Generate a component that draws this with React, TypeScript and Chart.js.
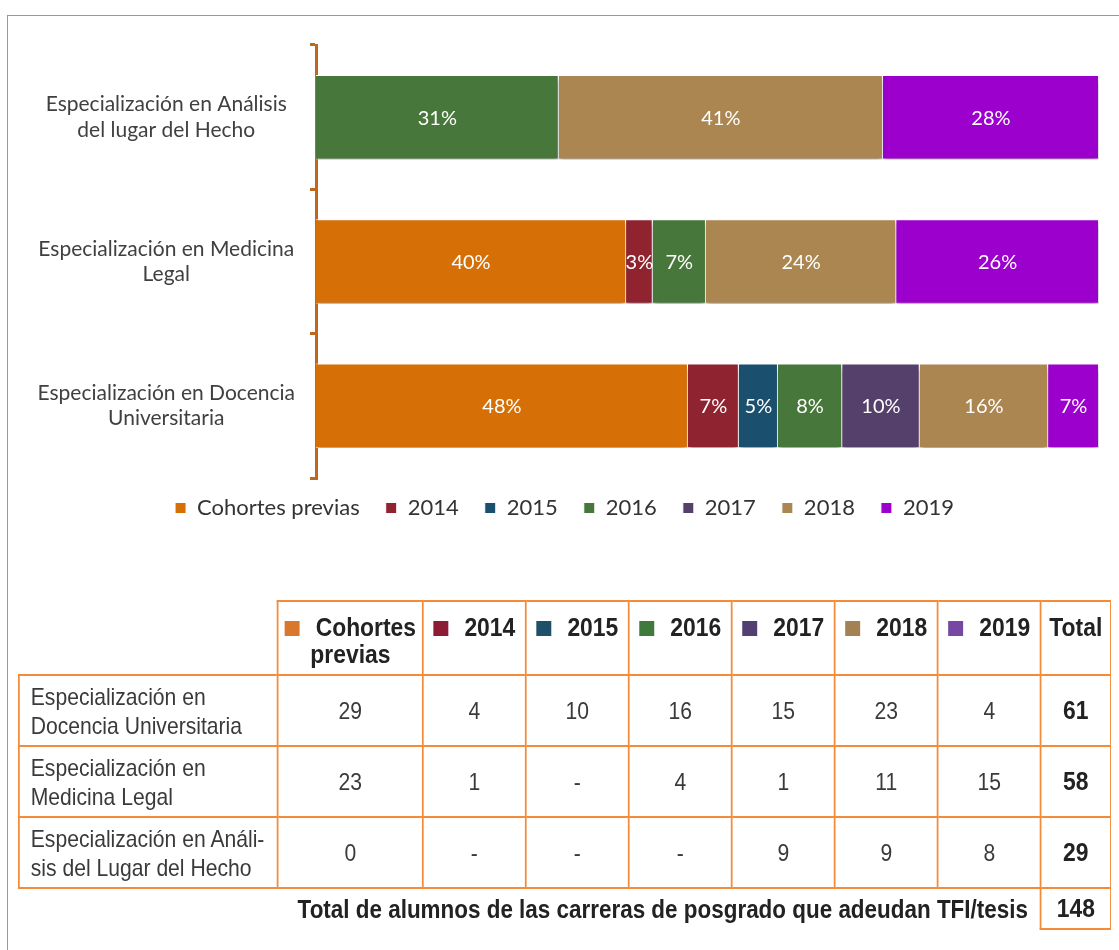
import React, { useEffect, useRef } from "react";
import { Chart, registerables } from "chart.js";

Chart.register(...registerables);

// ---------- Chart data (percentages) ----------
const categories: string[][] = [
  ["Especialización en Análisis", "del lugar del Hecho"],
  ["Especialización en Medicina", "Legal"],
  ["Especialización en Docencia", "Universitaria"],
];
const seriesNames = ["Cohortes previas", "2014", "2015", "2016", "2017", "2018", "2019"];
const cohortesPrevias = [0, 39.6, 47.5];
const y2014 = [0, 3.4, 6.5];
const y2015 = [0, 0, 5.0];
const y2016 = [31.0, 6.8, 8.2];
const y2017 = [0, 0, 9.9];
const y2018 = [41.4, 24.3, 16.4];
const y2019 = [27.6, 25.9, 6.5];
const seriesColors = ["#D56F06", "#902330", "#1B4F6E", "#47773A", "#553F6B", "#AB8650", "#9B00CD"];

// ---------- Table data ----------
const tableHeaders: string[][] = [["Cohortes", "previas"], ["2014"], ["2015"], ["2016"], ["2017"], ["2018"], ["2019"]];
const tableHeaderColors = ["#D9782D", "#8B1C34", "#1E5068", "#3F7A3C", "#524070", "#A38152", "#7647A3"];
const tableRowLabels: string[][] = [
  ["Especialización en", "Docencia Universitaria"],
  ["Especialización en", "Medicina Legal"],
  ["Especialización en Análi-", "sis del Lugar del Hecho"],
];
const rowDocencia = ["29", "4", "10", "16", "15", "23", "4"];
const rowMedicina = ["23", "1", "-", "4", "1", "11", "15"];
const rowAnalisis = ["0", "-", "-", "-", "9", "9", "8"];
const rowTotals = ["61", "58", "29"];
const footerText = "Total de alumnos de las carreras de posgrado que adeudan TFI/tesis";
const grandTotal = "148";

const ORANGE = "#F28C3A";
const AXIS = "#C0671E";
const S = 0.88; // horizontal condensation of the table font

const barPlugin = {
  id: "shadowAndLabels",
  afterLayout(chart: any) {
    const lg = chart.legend;
    if (lg) {
      lg.top -= 7;
      lg.bottom -= 7;
    }
  },
  beforeDatasetsDraw(chart: any) {
    const ctx = chart.ctx;
    ctx.save();
    ctx.shadowColor = "rgba(0,0,0,0.38)";
    ctx.shadowBlur = 5;
    ctx.shadowOffsetY = 4;
  },
  afterDatasetsDraw(chart: any) {
    const ctx = chart.ctx;
    ctx.restore();
    ctx.save();
    ctx.fillStyle = "#FFFFFF";
    ctx.font = "20px Lato";
    ctx.textAlign = "center";
    ctx.textBaseline = "middle";
    chart.data.datasets.forEach((ds: any, i: number) => {
      const meta = chart.getDatasetMeta(i);
      meta.data.forEach((el: any, j: number) => {
        const v = ds.data[j];
        if (!v) return;
        const p = el.getCenterPoint();
        ctx.fillText(Math.round(v) + "%", p.x, p.y + 1);
      });
    });
    ctx.restore();
  },
};

function BarChart() {
  const ref = useRef<HTMLCanvasElement | null>(null);
  useEffect(() => {
    if (!ref.current) return;
    const all = [cohortesPrevias, y2014, y2015, y2016, y2017, y2018, y2019];
    const chart = new Chart(ref.current, {
      type: "bar",
      data: {
        labels: categories,
        datasets: all.map((d, i) => ({
          label: seriesNames[i],
          data: d,
          backgroundColor: seriesColors[i],
          borderColor: "#FFFFFF",
          borderWidth: 1,
          barPercentage: 0.585,
          categoryPercentage: 1,
        })),
      },
      options: {
        indexAxis: "y",
        responsive: false,
        maintainAspectRatio: false,
        animation: false,
        layout: { padding: { top: 30, right: 12, left: 22, bottom: 0 } },
        scales: {
          x: { stacked: true, min: 0, max: 100, display: false },
          y: {
            stacked: true,
            afterFit: (s: any) => {
              s.width = 286;
              s.paddingTop = 0;
              s.paddingBottom = 0;
            },
            border: { display: true, color: AXIS, width: 3 },
            grid: {
              drawOnChartArea: false,
              drawTicks: true,
              tickLength: 6,
              color: AXIS,
              lineWidth: 3,
              offset: true,
            },
            ticks: {
              crossAlign: "center",
              padding: 15,
              color: "#404040",
              font: { family: "Lato", size: 21 },
            },
          },
        },
        plugins: {
          legend: {
            position: "bottom",
            labels: {
              boxWidth: 11,
              boxHeight: 11,
              padding: 26,
              color: "#333333",
              font: { family: "Lato", size: 22 },
            },
          },
          tooltip: { enabled: false },
        },
      } as any,
      plugins: [barPlugin],
    });
    return () => chart.destroy();
  }, []);
  return (
    <canvas
      ref={ref}
      width={1103}
      height={521}
      style={{ position: "absolute", left: 0, top: 7, width: 1103, height: 521 }}
    />
  );
}

function DataTable() {
  const rows = [rowDocencia, rowMedicina, rowAnalisis];
  const border = `2px solid ${ORANGE}`;
  const colWidths = [259, 145, 103, 103, 103, 103, 103, 103, 70].map((w) => w / S);
  const headCell: React.CSSProperties = {
    border,
    verticalAlign: "top",
    textAlign: "center",
    fontWeight: "bold",
    fontSize: 26,
    lineHeight: "27px",
    paddingTop: 12,
    paddingLeft: 0,
    paddingRight: 0,
    color: "#222",
    whiteSpace: "nowrap",
  };
  const numCell: React.CSSProperties = {
    border,
    textAlign: "center",
    fontSize: 24,
    color: "#3a3a3a",
    padding: 0,
  };
  const boldCell: React.CSSProperties = {
    border,
    textAlign: "center",
    fontSize: 26,
    fontWeight: "bold",
    color: "#222",
    padding: 0,
  };
  return (
    <table
      style={{
        position: "absolute",
        left: 10,
        top: 592,
        width: 1092 / S,
        borderCollapse: "collapse",
        tableLayout: "fixed",
        transform: `scaleX(${S})`,
        transformOrigin: "0 0",
        fontFamily: '"Liberation Sans", Arial, sans-serif',
        color: "#333",
      }}
    >
      <colgroup>
        {colWidths.map((w, i) => (
          <col key={i} style={{ width: w }} />
        ))}
      </colgroup>
      <tbody>
        <tr style={{ height: 74 }}>
          <td style={{ padding: 0 }} />
          {tableHeaders.map((h, i) => (
            <td key={i} style={headCell}>
              <div>
                <span
                  style={{
                    display: "inline-block",
                    width: 15 / S,
                    height: 15,
                    background: tableHeaderColors[i],
                    marginRight: 16 / S,
                    verticalAlign: "0px",
                  }}
                />
                {h[0]}
              </div>
              {h.length > 1 ? <div>{h[1]}</div> : null}
            </td>
          ))}
          <td style={headCell}>Total</td>
        </tr>
        {rows.map((r, ri) => (
          <tr key={ri} style={{ height: 71 }}>
            <td
              style={{
                border,
                textAlign: "left",
                paddingLeft: 11 / S,
                paddingRight: 0,
                paddingTop: 0,
                paddingBottom: 0,
                fontSize: 24,
                lineHeight: "29px",
                color: "#3a3a3a",
                whiteSpace: "nowrap",
              }}
            >
              {tableRowLabels[ri][0]}
              <br />
              {tableRowLabels[ri][1]}
            </td>
            {r.map((v, ci) => (
              <td key={ci} style={numCell}>
                {v}
              </td>
            ))}
            <td style={boldCell}>{rowTotals[ri]}</td>
          </tr>
        ))}
        <tr style={{ height: 41 }}>
          <td
            colSpan={8}
            style={{
              textAlign: "right",
              paddingRight: 12 / S,
              paddingTop: 0,
              paddingBottom: 0,
              fontSize: 25.5,
              fontWeight: "bold",
              color: "#222",
              whiteSpace: "nowrap",
            }}
          >
            {footerText}
          </td>
          <td style={boldCell}>{grandTotal}</td>
        </tr>
      </tbody>
    </table>
  );
}

export default function App() {
  return (
    <div style={{ position: "relative", width: 1103, height: 934 }}>
      <div
        style={{
          position: "fixed",
          top: 15,
          left: 7,
          right: 0,
          bottom: 0,
          borderTop: "1px solid #999",
          borderLeft: "1px solid #999",
          pointerEvents: "none",
        }}
      />
      <BarChart />
      <DataTable />
    </div>
  );
}
